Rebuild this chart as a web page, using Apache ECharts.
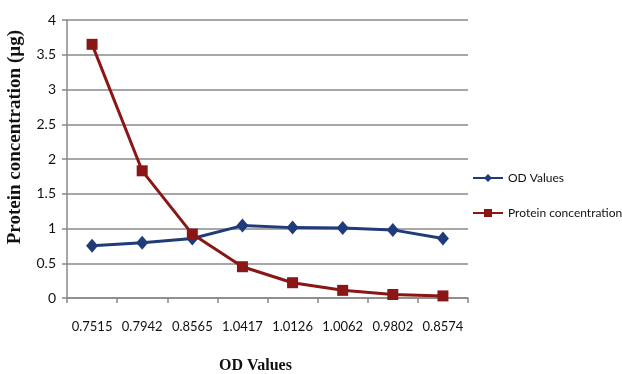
<!DOCTYPE html>
<html><head><meta charset="utf-8">
<script src="https://cdn.jsdelivr.net/npm/echarts@6/dist/echarts.min.js"></script>
<style>html,body{margin:0;padding:0;background:#fff}#c{width:622px;height:374px}</style>
</head><body><div id="c"></div>
<script>
var categories = ['0.7515','0.7942','0.8565','1.0417','1.0126','1.0062','0.9802','0.8574'];
var odValues = [0.7515,0.7942,0.8565,1.0417,1.0126,1.0062,0.9802,0.8574];
var proteinValues = [3.65,1.83,0.92,0.45,0.22,0.11,0.05,0.03];
var yTicks = [0,0.5,1,1.5,2,2.5,3,3.5,4];

var chart = echarts.init(document.getElementById('c'), null, {renderer:'canvas'});
chart.setOption({
  animation:false,
  backgroundColor:'#fff',
  grid:{left:67,right:154,top:20,bottom:76,outerBoundsMode:'none',containLabel:false},
  legend:{
    orient:'vertical', left:467, top:167, itemGap:23, itemWidth:30, itemHeight:10,
    textStyle:{fontFamily:'Lato', fontSize:12, color:'#111'},
    data:['OD Values','Protein concentration']
  },
  xAxis:{
    type:'category', data:categories, boundaryGap:true,
    axisLine:{lineStyle:{color:'#888',width:1.5}},
    axisTick:{show:true,length:5,lineStyle:{color:'#888',width:1.5}},
    axisLabel:{fontFamily:'Lato',fontSize:13,color:'#111',margin:22,interval:0},
    name:'OD Values', nameLocation:'middle', nameGap:60,
    nameTextStyle:{fontFamily:'Liberation Serif',fontWeight:'bold',fontSize:16,color:'#111',padding:[0,24,0,0]}
  },
  yAxis:{
    type:'value', min:0, max:4, interval:0.5,
    axisLine:{show:true,lineStyle:{color:'#888',width:1.5}},
    axisTick:{show:true,length:5,lineStyle:{color:'#888',width:1.5}},
    axisLabel:{fontFamily:'Lato',fontSize:14,color:'#111',margin:11,
      formatter:function(v){return yTicks.indexOf(v)>=0?String(v):'';}},
    splitLine:{lineStyle:{color:'#8a8a8a',width:1.5}}
  },
  graphic:[{
    type:'text', left:6, top:30, rotation:Math.PI/2, originX:0, originY:0,
    style:{text:'Protein concentration (µg)', fontFamily:'Liberation Serif', fontWeight:'bold', fontSize:19, fill:'#111'}
  }],
  series:[
    {name:'OD Values', type:'line', data:odValues, symbol:'diamond', symbolSize:[12,14],
     itemStyle:{color:'#1f3b7a'}, lineStyle:{color:'#1f3b7a',width:3}},
    {name:'Protein concentration', type:'line', data:proteinValues, symbol:'rect', symbolSize:11,
     itemStyle:{color:'#8b1616'}, lineStyle:{color:'#8b1616',width:3}}
  ]
});
</script></body></html>
